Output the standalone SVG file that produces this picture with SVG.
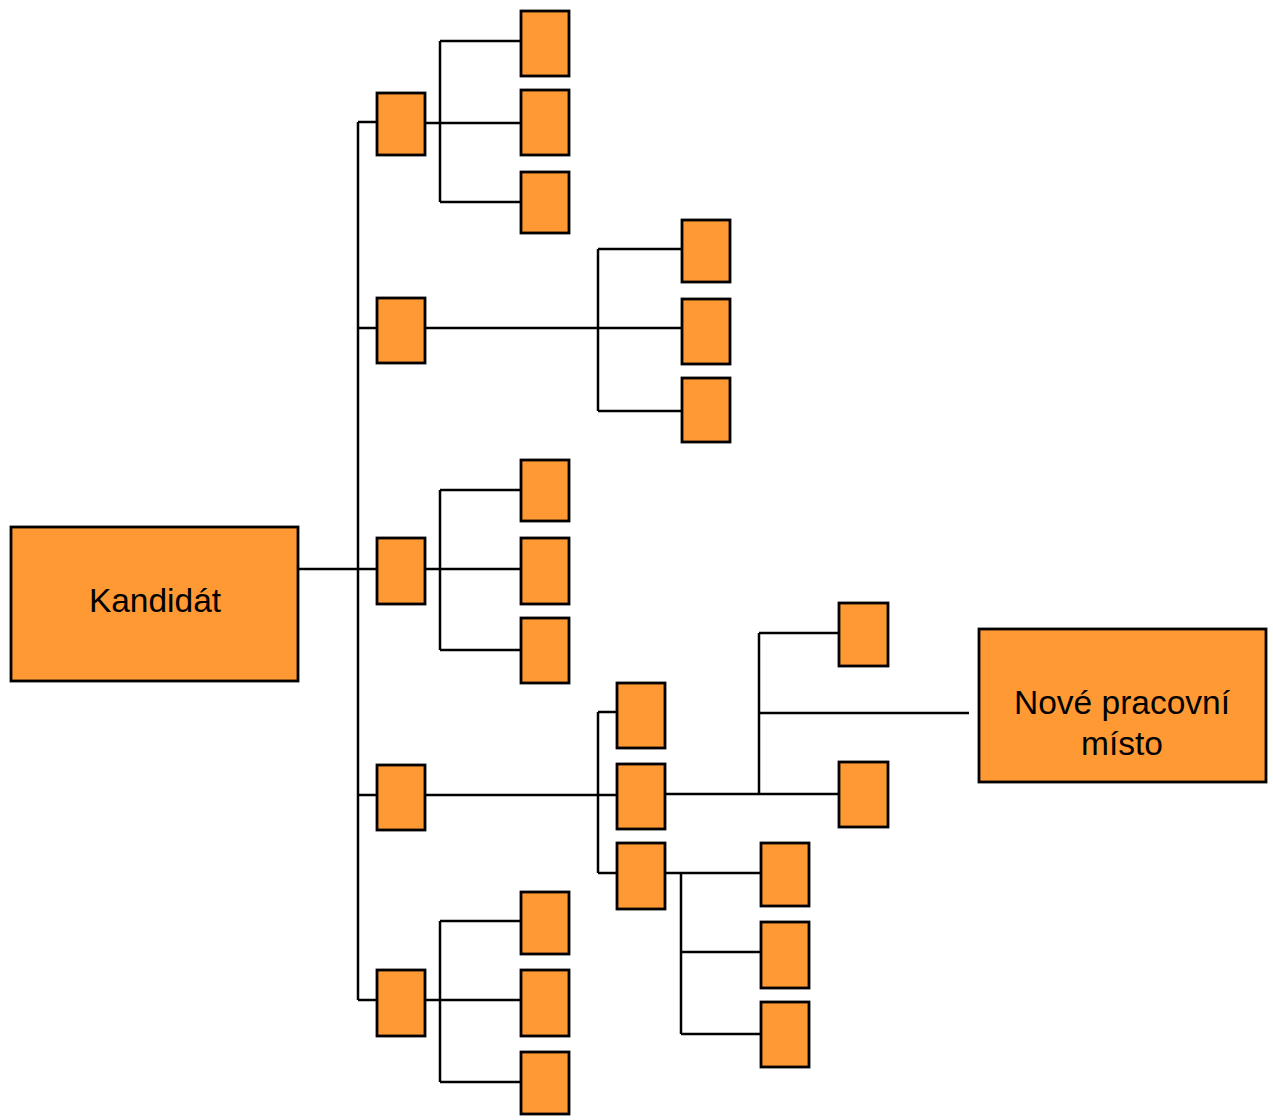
<svg xmlns="http://www.w3.org/2000/svg" width="1273" height="1120" viewBox="0 0 1273 1120">
<style>
.n{fill:#FF9933;stroke:#000;stroke-width:2.8}
.c{fill:none;stroke:#000;stroke-width:2.5}
.t{font-family:"Liberation Sans",Arial,sans-serif;font-size:33.5px;fill:#000;text-anchor:middle}
</style>
<rect width="1273" height="1120" fill="#fff"/>
<g id="connectors">
<path class="c" d="M298 569H377M358 122V1000M358 122H377M358 328H377M358 795H377M358 1000H377"/>
<path class="c" d="M425 123H521M440 41V202M440 41H521M440 202H521"/>
<path class="c" d="M425 328H682M598 249V411M598 249H682M598 411H682"/>
<path class="c" d="M425 569H521M440 490V650M440 490H521M440 650H521"/>
<path class="c" d="M425 1000H521M440 921V1082M440 921H521M440 1082H521"/>
<path class="c" d="M425 795H617M598 712V873M598 712H617M598 873H617"/>
<path class="c" d="M665 794H839M759 633V794M759 633H839M759 713H969"/>
<path class="c" d="M665 873H761M681 873V1034M681 952H761M681 1034H761"/>
</g>
<g id="kandidat"><rect class="n" x="11" y="527" width="287" height="154"/><text class="t" x="155" y="612">Kandidát</text></g>
<g id="nove-misto"><rect class="n" x="979" y="629" width="287" height="153"/><text class="t" x="1122" y="714">Nové pracovní</text><text class="t" x="1122" y="755">místo</text></g>
<g id="a1"><rect class="n" x="377" y="93" width="48" height="62"/></g>
<g id="a2"><rect class="n" x="377" y="298" width="48" height="65"/></g>
<g id="a3"><rect class="n" x="377" y="538" width="48" height="66"/></g>
<g id="a4"><rect class="n" x="377" y="765" width="48" height="65"/></g>
<g id="a5"><rect class="n" x="377" y="970" width="48" height="66"/></g>
<g id="a1-1"><rect class="n" x="521" y="11" width="48" height="65"/></g>
<g id="a1-2"><rect class="n" x="521" y="90" width="48" height="65"/></g>
<g id="a1-3"><rect class="n" x="521" y="172" width="48" height="61"/></g>
<g id="a2-1"><rect class="n" x="682" y="220" width="48" height="62"/></g>
<g id="a2-2"><rect class="n" x="682" y="299" width="48" height="65"/></g>
<g id="a2-3"><rect class="n" x="682" y="378" width="48" height="64"/></g>
<g id="a3-1"><rect class="n" x="521" y="460" width="48" height="61"/></g>
<g id="a3-2"><rect class="n" x="521" y="538" width="48" height="66"/></g>
<g id="a3-3"><rect class="n" x="521" y="618" width="48" height="65"/></g>
<g id="a5-1"><rect class="n" x="521" y="892" width="48" height="62"/></g>
<g id="a5-2"><rect class="n" x="521" y="970" width="48" height="66"/></g>
<g id="a5-3"><rect class="n" x="521" y="1052" width="48" height="62"/></g>
<g id="a4-1"><rect class="n" x="617" y="683" width="48" height="65"/></g>
<g id="a4-2"><rect class="n" x="617" y="764" width="48" height="65"/></g>
<g id="a4-3"><rect class="n" x="617" y="843" width="48" height="66"/></g>
<g id="a4-2-1"><rect class="n" x="839" y="603" width="49" height="63"/></g>
<g id="a4-2-2"><rect class="n" x="839" y="762" width="49" height="65"/></g>
<g id="a4-3-1"><rect class="n" x="761" y="843" width="48" height="63"/></g>
<g id="a4-3-2"><rect class="n" x="761" y="922" width="48" height="66"/></g>
<g id="a4-3-3"><rect class="n" x="761" y="1002" width="48" height="65"/></g>
</svg>
